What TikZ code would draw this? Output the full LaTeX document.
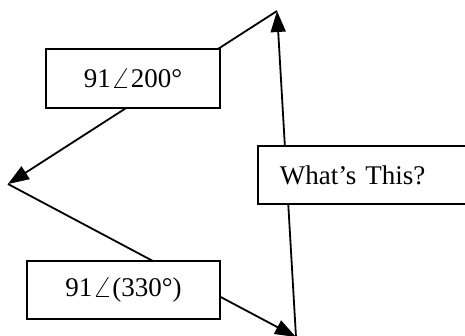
\documentclass[tikz,border=0pt]{standalone}
\usepackage{fontspec}
\usepackage{graphicx}
\setmainfont{Liberation Serif}
\newcommand{\angsym}{\resizebox{20pt}{19pt}{$\angle$}}
\usetikzlibrary{arrows.meta}

\begin{document}
\begin{tikzpicture}[x=1pt, y=-1pt,
    box/.style={draw, line width=1.8pt, fill=white, inner sep=0pt,
                font=\fontsize{27}{32}\selectfont},
    arr/.style={-{Triangle[length=21pt, width=15pt]}, line width=1.8pt}
]
\useasboundingbox (0,0) rectangle (465,335);
\clip (0,0) rectangle (465,335);
% triangle corners
\coordinate (top) at (277,11);
\coordinate (left) at (8,184);
\coordinate (bottom) at (296,337);
\draw[arr] (top) -- (left);
\draw[arr] (left) -- (bottom);
\draw[arr] (bottom) -- (top);
% labels on the sides
\node[box, minimum width=174, minimum height=59] (first) at (133,78.5) {91\angsym200°};
\node[box, minimum width=193, minimum height=58] (second) at (123.5,290) {91\angsym(330°)};
\node[box, anchor=west, minimum height=58, inner xsep=22pt, text width=200pt,
      align=left] (sum) at (257,175) {What’s This?};
\end{tikzpicture}
\end{document}
